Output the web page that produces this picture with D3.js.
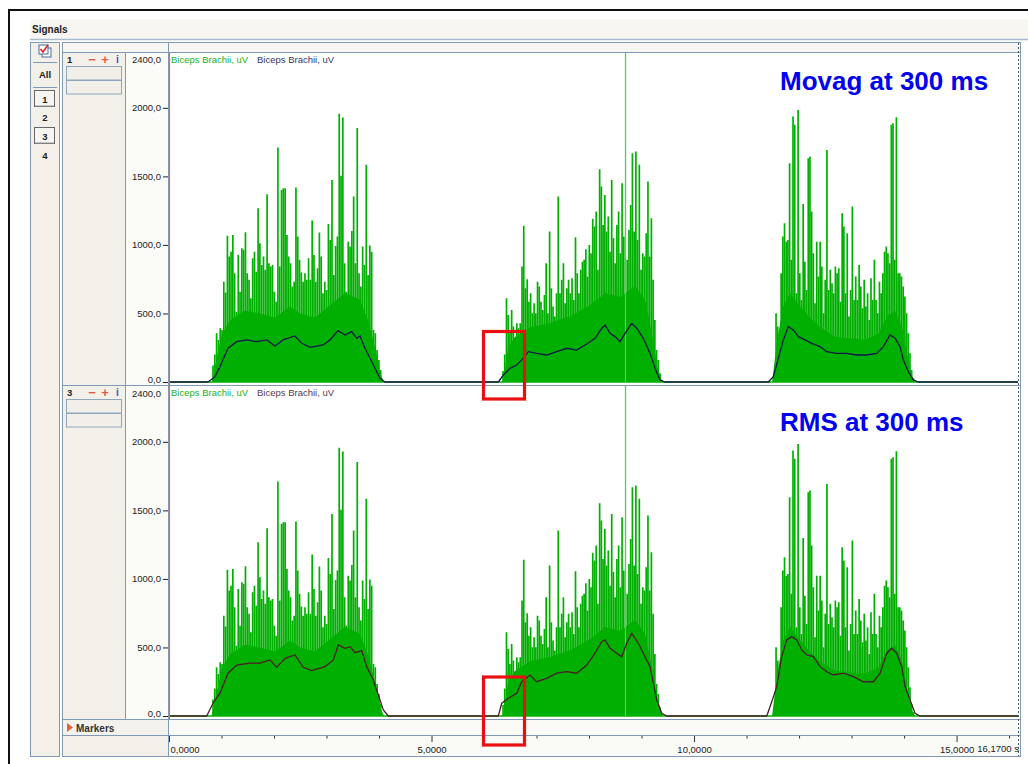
<!DOCTYPE html>
<html><head><meta charset="utf-8">
<script src="https://cdn.jsdelivr.net/npm/d3@7"></script>
<style>
body{margin:0;background:#fff}
svg{display:block}
text{font-family:"Liberation Sans",Arial,sans-serif}
</style>
</head><body>
<svg id="c" width="1028" height="764"></svg>
<script>
// ---------------- DATA ----------------
const timeEnd = 16.17;
const timeMajorTicks = [0, 5, 10, 15];
const timeMinorTicks = [1, 2, 3, 4, 6, 7, 8, 9, 11, 12, 13, 14, 16];
const yTicks = [0, 500, 1000, 1500, 2000];
const yMax = 2400;
const legendText = "Biceps Brachii, uV";
const panelTitles = ["Movag at 300 ms", "RMS at 300 ms"];
const panelIds = ["1", "3"];
const channelList = ["1", "2", "3", "4"];

// raw rectified EMG (peak per sample), three contraction bursts
const burstStart = [0.838, 6.362, 11.562];
const burstEnd = [4.032, 9.385, 14.177];
const emgBurst1 = [120,200,355,307,392,380,732,652,1066,915,951,1073,793,513,927,659,976,964,1092,793,745,611,903,951,805,1268,1012,854,915,818,1370,866,842,854,659,586,1710,842,1401,1414,1414,1073,915,866,696,732,1418,1061,891,798,732,793,745,903,745,1178,927,732,830,1090,915,647,732,672,1153,1036,1474,781,993,1061,1956,1504,1929,866,659,1024,988,1102,1353,866,1852,793,696,988,854,1584,781,995,951,380,355,234,161,88];
const emgBurst2 = [80,200,611,489,380,526,404,270,428,392,428,842,1139,684,750,586,647,501,574,501,732,696,586,526,635,866,501,1097,684,550,477,647,1353,647,745,866,574,684,745,647,757,599,1056,793,647,818,878,891,968,769,1000,939,1190,1134,1243,818,1552,1426,1146,1365,1097,1207,951,1474,1050,866,1146,1243,939,1450,1061,3000,891,1109,1292,1669,1097,1681,1036,1584,818,939,915,1085,1462,915,1195,745,453,234,161,63,15];
const emgBurst3 = [501,404,282,793,1061,1158,1024,1036,1596,891,1937,1876,647,1985,793,599,1299,878,672,1633,1645,1243,939,574,1024,769,1024,842,501,745,1693,672,818,720,647,842,793,830,586,1231,1134,647,1085,477,672,1280,599,769,599,854,696,538,745,550,647,453,757,599,891,599,501,732,647,793,951,988,939,866,1876,1888,891,1932,793,793,769,696,623,501,355,209,88,30];

// dense low-amplitude band of the EMG [time s, uV]
const emgCore1 = [[0.819,0],[0.895,150],[1.010,350],[1.162,450],[1.448,520],[1.733,500],[2.019,470],[2.305,550],[2.495,500],[2.781,470],[3.067,560],[3.352,650],[3.638,600],[3.790,450],[3.924,250],[4.038,50],[4.095,0]];
const emgCore2 = [[6.362,0],[6.457,250],[6.590,330],[6.876,400],[7.257,430],[7.638,480],[8.019,560],[8.305,650],[8.590,620],[8.876,700],[9.067,600],[9.200,350],[9.295,120],[9.390,0]];
const emgCore3 = [[11.486,0],[11.581,300],[11.695,550],[11.829,650],[12.019,550],[12.190,480],[12.400,400],[12.686,330],[12.971,320],[13.257,310],[13.505,350],[13.676,480],[13.829,520],[13.962,400],[14.057,200],[14.152,40],[14.210,0]];

// moving average envelope (300 ms) [time s, uV]
const movagTimes = [0,0.743,0.876,0.971,1.124,1.290,1.480,1.670,1.861,2.019,2.171,2.400,2.528,2.686,2.933,3.067,3.219,3.352,3.480,3.575,3.638,3.733,3.829,3.924,4.019,4.114,
  6.272,6.368,6.495,6.623,6.718,6.844,7.004,7.194,7.385,7.575,7.766,7.956,8.114,8.242,8.305,8.400,8.495,8.590,8.686,8.813,8.909,9.034,9.162,9.257,9.352,9.448,
  11.415,11.510,11.606,11.701,11.796,11.891,11.987,12.114,12.242,12.400,12.528,12.718,12.908,13.099,13.290,13.480,13.606,13.733,13.829,13.924,13.987,14.082,14.177,14.272,16.17];
const movagValues = [0,0,39,112,246,294,307,294,307,263,307,336,282,253,270,307,375,343,367,319,336,246,173,100,27,0,
  0,51,100,124,161,221,209,197,221,246,233,277,319,392,416,355,331,294,355,428,392,319,209,100,15,0,
  0,39,173,307,404,380,331,307,282,258,221,209,209,197,197,209,258,343,319,258,161,75,15,0,0];

// RMS envelope (300 ms) [time s, uV]
const rmsTimes = [0,0.718,0.838,0.971,1.124,1.290,1.543,1.733,1.924,2.051,2.210,2.400,2.558,2.718,2.971,3.130,3.225,3.352,3.448,3.543,3.670,3.766,3.891,3.987,4.082,4.177,
  6.272,6.337,6.463,6.623,6.718,6.876,7.004,7.194,7.385,7.575,7.766,7.956,8.114,8.242,8.305,8.400,8.527,8.623,8.718,8.813,8.939,9.034,9.162,9.225,9.290,9.385,9.480,
  11.385,11.480,11.575,11.670,11.766,11.861,11.956,12.051,12.146,12.272,12.400,12.528,12.655,12.844,13.035,13.225,13.415,13.543,13.670,13.766,13.861,13.956,14.019,14.114,14.210,14.305,16.17];
const rmsValues = [0,0,93,166,312,372,385,385,409,355,421,445,355,331,360,409,518,494,506,462,477,360,263,153,44,0,
  0,93,129,166,250,299,250,275,312,323,312,372,458,542,555,494,458,433,531,603,531,458,360,239,117,20,0,
  0,104,214,433,555,579,555,482,445,433,360,323,299,312,287,250,250,312,458,494,458,360,214,117,20,0,0];

// ---------------- DRAW ----------------
const svg = d3.select("#c");
const BORDER = "#7f9ab6";
const PANEL_BG = "#f2f0e9";
const GREEN = "#00b000";
const fmt = d => d3.format(".1f")(d).replace(".", ",");
const fmtT = d => d3.format(".4f")(d).replace(".", ",");

svg.append("rect").attr("width",1028).attr("height",764).attr("fill","#fff");
svg.append("path").attr("d","M9,764 V10 H1028").attr("fill","none").attr("stroke","#111").attr("stroke-width",2);
svg.append("rect").attr("x",30).attr("y",19).attr("width",998).attr("height",20).attr("fill","#f7f6f2");
svg.append("text").attr("x",32).attr("y",33).attr("font-size",10).attr("font-weight","bold").attr("fill","#222").text("Signals");
svg.append("line").attr("x1",30).attr("x2",1028).attr("y1",39.5).attr("y2",39.5).attr("stroke","#a8bbcf").attr("stroke-width",1.5);

// left channel panel
svg.append("rect").attr("x",30.5).attr("y",42.5).attr("width",29).attr("height",714).attr("fill",PANEL_BG).attr("stroke",BORDER);
const ic = svg.append("g").attr("transform","translate(38,44)");
ic.append("rect").attr("x",4).attr("y",4).attr("width",9).attr("height",9).attr("fill","#fff").attr("stroke","#4a6a9a");
ic.append("rect").attr("x",1).attr("y",1).attr("width",9).attr("height",9).attr("fill","#fff").attr("stroke","#4a6a9a");
ic.append("path").attr("d","M2.5,5 L5,8 L10,1").attr("fill","none").attr("stroke","#e02020").attr("stroke-width",1.6);
svg.append("line").attr("x1",33).attr("x2",57).attr("y1",62.5).attr("y2",62.5).attr("stroke",BORDER);
svg.append("text").attr("x",45).attr("y",78).attr("text-anchor","middle").attr("font-size",9.5).attr("font-weight","bold").attr("fill","#222").text("All");
svg.append("line").attr("x1",33).attr("x2",57).attr("y1",87.5).attr("y2",87.5).attr("stroke",BORDER);
const chY = [99, 117, 136, 155];
channelList.forEach((c, i) => {
  if (c === "1" || c === "3") {
    svg.append("rect").attr("x",34.5).attr("y",chY[i]-8.5).attr("width",20).attr("height",16).attr("fill","#f6f5f1").attr("stroke","#666");
    svg.append("line").attr("x1",35).attr("x2",54).attr("y1",chY[i]+7).attr("y2",chY[i]+7).attr("stroke","#999");
  }
  svg.append("text").attr("x",45).attr("y",chY[i]+3.5).attr("text-anchor","middle").attr("font-size",9.5).attr("font-weight","bold").attr("fill","#222").text(c);
});

// main box
svg.append("rect").attr("x",62.5).attr("y",42.5).attr("width",958).attr("height",714).attr("fill",PANEL_BG).attr("stroke",BORDER);
svg.append("rect").attr("x",63).attr("y",43).attr("width",957).attr("height",9).attr("fill","#f6f5f2");
svg.append("line").attr("x1",63).attr("x2",1020).attr("y1",52.5).attr("y2",52.5).attr("stroke",BORDER);
svg.append("line").attr("x1",168.5).attr("x2",168.5).attr("y1",43).attr("y2",52).attr("stroke",BORDER);

const x = d3.scaleLinear().domain([0, timeEnd]).range([169, 1018]);

const panels = [
  {top:53, zero:382, rowTop:52.5, rowBottom:385.5, env:d3.zip(movagTimes, movagValues), envColor:"#16164a", leg2:"#35356a", title:panelTitles[0], titleY:90, id:panelIds[0]},
  {top:387, zero:716, rowTop:385.5, rowBottom:719.5, env:d3.zip(rmsTimes, rmsValues), envColor:"#4a1c2a", leg2:"#5a3a4a", title:panelTitles[1], titleY:430.5, id:panelIds[1]}
];

const bursts = [
  {vals:emgBurst1, s:burstStart[0], e:burstEnd[0], core:emgCore1},
  {vals:emgBurst2, s:burstStart[1], e:burstEnd[1], core:emgCore2},
  {vals:emgBurst3, s:burstStart[2], e:burstEnd[2], core:emgCore3}
];

panels.forEach((p, pi) => {
  const y = d3.scaleLinear().domain([0, yMax]).range([p.zero, p.top]);
  svg.append("rect").attr("x",126).attr("y",p.rowTop+0.5).attr("width",42).attr("height",p.rowBottom-p.rowTop-1).attr("fill","#fbfbf8");
  svg.append("rect").attr("x",169).attr("y",p.rowTop+0.5).attr("width",851).attr("height",p.rowBottom-p.rowTop-1).attr("fill","#fff");
  svg.append("line").attr("x1",125.5).attr("x2",125.5).attr("y1",p.rowTop).attr("y2",p.rowBottom).attr("stroke",BORDER);
  svg.append("line").attr("x1",168.5).attr("x2",168.5).attr("y1",p.rowTop).attr("y2",p.rowBottom).attr("stroke",BORDER);
  svg.append("line").attr("x1",62.5).attr("x2",1020).attr("y1",p.rowBottom).attr("y2",p.rowBottom).attr("stroke",BORDER);

  const ly = p.rowTop + 7;
  svg.append("text").attr("x",67).attr("y",ly+3.5).attr("font-size",9.5).attr("font-weight","bold").attr("fill","#222").text(p.id);
  svg.append("text").attr("x",92).attr("y",ly+4).attr("text-anchor","middle").attr("font-size",13).attr("font-weight","bold").attr("fill","#e8584a").text("−");
  svg.append("text").attr("x",105).attr("y",ly+4).attr("text-anchor","middle").attr("font-size",13).attr("font-weight","bold").attr("fill","#e8584a").text("+");
  svg.append("text").attr("x",117.5).attr("y",ly+3.5).attr("text-anchor","middle").attr("font-size",10).attr("font-weight","bold").attr("fill","#2060c0").text("i");
  [14, 28].forEach(o => {
    svg.append("rect").attr("x",66.5).attr("y",p.rowTop+o).attr("width",55).attr("height",13.5).attr("fill","#f1efe8").attr("stroke","#8fa6bf");
  });

  const ya = svg.append("g").attr("transform","translate(168,0)")
    .call(d3.axisLeft(y).tickValues(yTicks).tickSize(5).tickPadding(2).tickFormat(fmt));
  ya.select(".domain").remove();
  ya.selectAll("line").attr("stroke","#222");
  ya.selectAll("text").attr("font-size",9.5).attr("fill","#222").attr("font-family","Liberation Sans, Arial, sans-serif");
  ya.selectAll(".tick").filter(d => d === 0).select("text").attr("dy","0.05em");
  svg.append("text").attr("x",161).attr("y",y(yMax)+9.5).attr("text-anchor","end").attr("font-size",9.5).attr("fill","#222").text(fmt(yMax));

  const cid = "clip" + pi;
  svg.append("clipPath").attr("id",cid).append("rect").attr("x",169).attr("y",p.rowTop+0.5).attr("width",849).attr("height",p.zero - p.rowTop + 1);
  const g = svg.append("g").attr("clip-path","url(#"+cid+")");

  g.append("line").attr("x1",x(0)).attr("x2",x(timeEnd)).attr("y1",y(0)).attr("y2",y(0)).attr("stroke",GREEN).attr("stroke-width",1.5);

  const area = d3.area().x(d => x(d[0])).y0(y(0)).y1(d => y(d[1]));
  bursts.forEach(b => {
    g.append("path").datum(b.core).attr("d",area).attr("fill",GREEN);
  });
  bursts.forEach(b => {
    const n = b.vals.length;
    const tAt = i => b.s + i * (b.e - b.s) / (n - 1);
    g.selectAll(null).data(b.vals).enter().append("line")
      .attr("x1",(d,i) => x(tAt(i))).attr("x2",(d,i) => x(tAt(i)))
      .attr("y1",y(0)).attr("y2",d => y(d))
      .attr("stroke",d => d > yMax ? "#58cc58" : GREEN)
      .attr("stroke-width",d => d > yMax ? 1.3 : 1.7);
  });

  const line = d3.line().x(d => x(d[0])).y(d => y(d[1]));
  g.append("path").datum(p.env).attr("d",line).attr("fill","none").attr("stroke",p.envColor).attr("stroke-width",1.3);

  svg.append("text").attr("x",171).attr("y",p.rowTop+10).attr("font-size",9.5).attr("fill","#20b020").text(legendText);
  svg.append("text").attr("x",257).attr("y",p.rowTop+10).attr("font-size",9.5).attr("fill",p.leg2).text(legendText);

  svg.append("text").attr("x",780).attr("y",p.titleY).attr("font-size",26).attr("font-weight","bold").attr("fill","#0000ee").text(p.title);
});

svg.append("line").attr("x1",x(0)+0.5).attr("x2",x(0)+0.5).attr("y1",52.5).attr("y2",719).attr("stroke","#e0703c").attr("stroke-width",1.2);

// markers row
svg.append("rect").attr("x",63).attr("y",720).attr("width",105).attr("height",15).attr("fill","#f4f2ec");
svg.append("rect").attr("x",169).attr("y",720).attr("width",851).attr("height",15).attr("fill","#fafaf7");
svg.append("line").attr("x1",168.5).attr("x2",168.5).attr("y1",719.5).attr("y2",756).attr("stroke",BORDER);
svg.append("line").attr("x1",62.5).attr("x2",1020).attr("y1",735.5).attr("y2",735.5).attr("stroke",BORDER);
svg.append("path").attr("d","M67,723 L73,727.5 L67,732 Z").attr("fill","#e8603a");
svg.append("text").attr("x",76).attr("y",731.5).attr("font-size",10).attr("font-weight","bold").attr("fill","#333").text("Markers");

// time axis
svg.append("rect").attr("x",169).attr("y",736).attr("width",851).attr("height",20).attr("fill","#fafaf7");
const ta = svg.append("g").attr("transform","translate(0,736)")
  .call(d3.axisBottom(x).tickValues(timeMajorTicks).tickSize(6).tickPadding(4).tickFormat(fmtT));
ta.select(".domain").remove();
ta.selectAll("line").attr("stroke","#333");
ta.selectAll("text").attr("font-size",9.5).attr("fill","#222").attr("font-family","Liberation Sans, Arial, sans-serif");
ta.selectAll(".tick").filter(d => d === 0).select("text").attr("text-anchor","start").attr("dx","1");
const tm = svg.append("g").attr("transform","translate(0,736)")
  .call(d3.axisBottom(x).tickValues(timeMinorTicks).tickSize(2.5).tickFormat(""));
tm.select(".domain").remove();
tm.selectAll("line").attr("stroke","#333");
svg.append("text").attr("x",x(timeEnd)+1).attr("y",752).attr("text-anchor","end").attr("font-size",9.5).attr("fill","#222").text(fmtT(timeEnd) + " s");

svg.append("line").attr("x1",x(timeEnd)+0.5).attr("x2",x(timeEnd)+0.5).attr("y1",43).attr("y2",756).attr("stroke","#4a5a6a").attr("stroke-dasharray","2,2");

[[483.5, 331.5, 399], [483.5, 677, 745]].forEach(b => {
  svg.append("rect").attr("x",b[0]).attr("y",b[1]).attr("width",41).attr("height",b[2]-b[1]).attr("fill","none").attr("stroke","#e81010").attr("stroke-width",3.2);
});
</script>
</body></html>
